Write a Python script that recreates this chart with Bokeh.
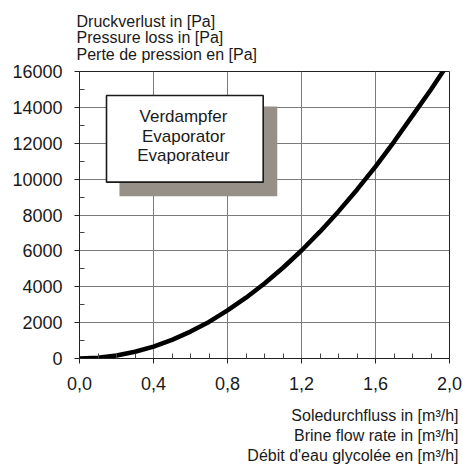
from bokeh.plotting import figure
from bokeh.models import Range1d, FixedTicker, CustomJSTickFormatter, Label, ColumnDataSource, Title
from bokeh.embed import file_html
from bokeh.resources import INLINE

# ---- data ----
flow = [0.0, 0.1, 0.2, 0.3, 0.4, 0.5, 0.6, 0.7, 0.8, 0.9, 1.0,
        1.1, 1.2, 1.3, 1.4, 1.5, 1.6, 1.7, 1.8, 1.9, 2.0]
pressure = [0, 40, 170, 375, 660, 1040, 1500, 2040, 2680, 3390, 4180,
            5060, 6020, 7070, 8200, 9410, 10700, 12080, 13540, 15000, 16550]
x_ticks = [0.0, 0.4, 0.8, 1.2, 1.6, 2.0]
x_minor = [0.1, 0.2, 0.3, 0.5, 0.6, 0.7, 0.9, 1.0, 1.1, 1.3, 1.4, 1.5, 1.7, 1.8, 1.9]
y_ticks = [0, 2000, 4000, 6000, 8000, 10000, 12000, 14000, 16000]
y_minor = [1000, 3000, 5000, 7000, 9000, 11000, 13000, 15000]
y_title = ["Druckverlust in [Pa]", "Pressure loss in [Pa]", "Perte de pression en [Pa]"]
x_title = ["Soledurchfluss in [m\u00b3/h]", "Brine flow rate in [m\u00b3/h]",
           "D\u00e9bit d'eau glycol\u00e9e en [m\u00b3/h]"]
box_text = ["Verdampfer", "Evaporator", "Evaporateur"]

FONT = "Liberation Sans"
TXT = "#1a1a1a"

p = figure(width=463, height=464, output_backend="svg", toolbar_location=None,
           x_range=Range1d(0, 2.0), y_range=Range1d(0, 16000),
           min_border_left=79, min_border_right=14, min_border_top=71, min_border_bottom=106)
p.title.visible = False
p.background_fill_color = "white"
p.border_fill_color = "white"
p.outline_line_color = "#222222"
p.outline_line_width = 1

p.xaxis.ticker = FixedTicker(ticks=x_ticks, minor_ticks=x_minor)
p.yaxis.ticker = FixedTicker(ticks=y_ticks, minor_ticks=y_minor)
p.xaxis.formatter = CustomJSTickFormatter(code="return tick.toFixed(1).replace('.', ',');")
for ax in (p.xaxis, p.yaxis):
    ax.major_label_text_font = FONT
    ax.major_label_text_font_size = "18px"
    ax.major_label_text_color = TXT
    ax.axis_line_color = "#222222"
    ax.major_tick_line_color = "#222222"
    ax.minor_tick_line_color = "#444444"
    ax.major_tick_in = 0
    ax.major_tick_out = 5
    ax.minor_tick_in = 5
    ax.minor_tick_out = 0
p.xaxis.major_label_standoff = 13
p.yaxis.major_label_standoff = 12

p.xgrid.ticker = FixedTicker(ticks=x_ticks)
p.ygrid.ticker = FixedTicker(ticks=y_ticks)
p.grid.grid_line_color = "#7a7a7a"
p.grid.grid_line_width = 1

# box with shadow
p.quad(left=[0.216], right=[1.069], bottom=[9040], top=[14050],
       fill_color="#969089", line_color=None)
p.quad(left=[0.146], right=[0.993], bottom=[9830], top=[14660],
       fill_color="white", line_color="#1a1a1a", line_width=1.6)
for txt, yv in zip(box_text, [13494, 12380, 11322]):
    p.add_layout(Label(x=0.562, y=yv, text=txt, text_font=FONT, text_font_size="17px",
                       text_color=TXT, text_align="center", text_baseline="middle"))

# curve
src = ColumnDataSource(dict(x=flow, y=pressure))
p.line("x", "y", source=src, line_color="black", line_width=4.5, line_join="round")

# axis titles
p.add_layout(Title(text="\n".join(y_title), align="left", offset=-3, standoff=17,
                   text_font=FONT, text_font_size="16px", text_font_style="normal",
                   text_line_height=0.98, text_color=TXT), "above")
# small spacer between the tick labels and the x title block
p.add_layout(Title(text=" ", standoff=9, text_font=FONT, text_font_size="1px"), "below")
for txt in x_title:
    p.add_layout(Title(text=txt, align="right", offset=-9, standoff=1,
                       text_font=FONT, text_font_size="16px", text_font_style="normal",
                       text_color=TXT), "below")

open("out.html", "w").write(file_html(p, INLINE))
